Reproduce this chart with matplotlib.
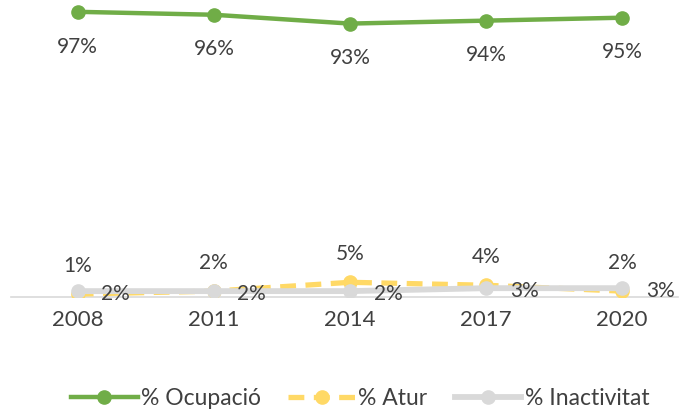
import matplotlib.pyplot as plt

plt.rcParams['font.family'] = ['Lato', 'DejaVu Sans']

anys = ["2008", "2011", "2014", "2017", "2020"]
ocupacio = [97, 96, 93, 94, 95]
atur = [1, 2, 5, 4, 2]
inactivitat = [2, 2, 2, 3, 3]

verd = "#70AD47"
groc = "#FFD966"
gris = "#D9D9D9"
text_col = "#404040"

fig = plt.figure(figsize=(6.85, 4.13), dpi=100)
ax = fig.add_axes([11 / 685, (413 - 297) / 413, 667 / 685, 294 / 413])

x = range(len(anys))
ax.plot(x, ocupacio, color=verd, lw=3.2, marker="o", ms=9.5, label="% Ocupació", zorder=3)
ax.plot(x, atur, color=groc, lw=3.8, ls=(0, (3, 1.8)), marker="o", ms=9.5, label="% Atur", zorder=3)
ax.plot(x, inactivitat, color=gris, lw=4.2, marker="o", ms=9.5, label="% Inactivitat", zorder=4)

# etiquetes de dades
for i, v in enumerate(ocupacio):
    ax.annotate(f"{v}%", (i, v), xytext=(0, -25), textcoords="offset points",
                ha="center", va="center", fontsize=15, color=text_col)
for i, v in enumerate(atur):
    ax.annotate(f"{v}%", (i, v), xytext=(0, 20.5), textcoords="offset points",
                ha="center", va="center", fontsize=15, color=text_col)
for i, v in enumerate(inactivitat):
    ax.annotate(f"{v}%", (i, v), xytext=(17, -2), textcoords="offset points",
                ha="left", va="center", fontsize=15, color=text_col, zorder=5)

ax.set_xlim(-0.49, 4.41)
ax.set_ylim(0, 100)
ax.set_xticks(list(x))
ax.set_xticklabels(anys, fontsize=16, color=text_col)
ax.set_yticks([])
ax.tick_params(axis="x", length=0, pad=9)
for s in ["top", "right", "left"]:
    ax.spines[s].set_visible(False)
ax.spines["bottom"].set_color(gris)
ax.spines["bottom"].set_linewidth(1.2)

fig.legend(loc="center", bbox_to_anchor=(0.526, 0.036), ncol=3, frameon=False,
           fontsize=16.5, labelcolor=text_col, handlelength=2.9, handletextpad=0.15,
           columnspacing=1.2)

fig.savefig("out.png", dpi=100)
